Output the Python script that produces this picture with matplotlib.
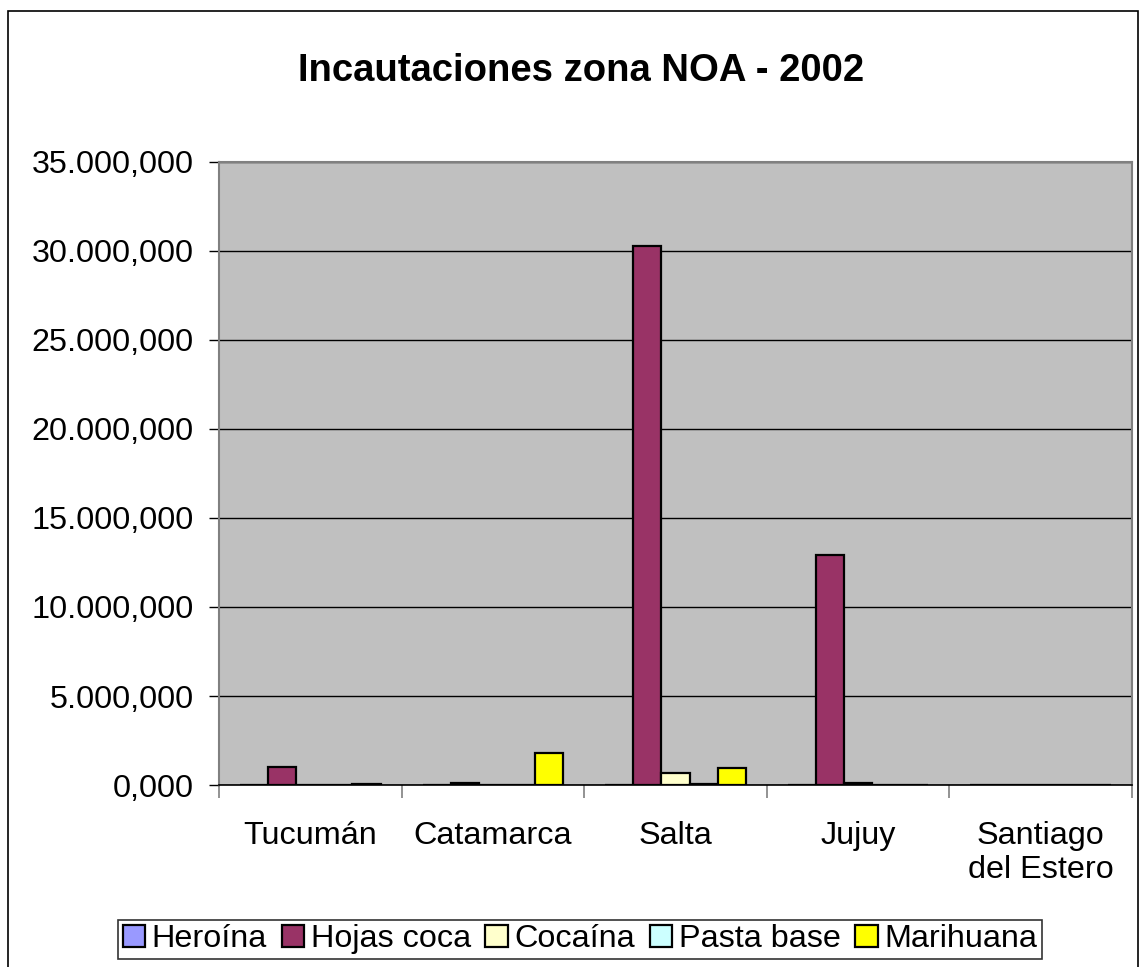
import matplotlib
matplotlib.use("Agg")
import matplotlib.pyplot as plt
import numpy as np
from matplotlib.patches import Rectangle
from matplotlib.ticker import FuncFormatter, MultipleLocator

plt.rcParams['font.family'] = ['Liberation Sans', 'DejaVu Sans']

categories = ["Tucumán", "Catamarca", "Salta", "Jujuy", "Santiago\ndel Estero"]
series_names = ["Heroína", "Hojas coca", "Cocaína", "Pasta base", "Marihuana"]
heroina = [0, 0, 0, 0, 0]
hojas_coca = [1000, 100, 30300, 12900, 0]
cocaina = [0, 0, 690, 120, 0]
pasta_base = [0, 0, 30, 0, 0]
marihuana = [30, 1810, 970, 0, 0]
series_values = [heroina, hojas_coca, cocaina, pasta_base, marihuana]
colors = ["#9999FF", "#993366", "#FFFFCC", "#CCFFFF", "#FFFF00"]

FS = 23.3

fig = plt.figure(figsize=(11.4, 9.67), dpi=100)
ax = fig.add_axes([0.1921, 0.1882, 0.993 - 0.1921, 0.8325 - 0.1882])
ax.set_facecolor("#C0C0C0")

n = len(categories)
x = np.arange(n)
bw = 1 / 6.5
for i, (name, vals, c) in enumerate(zip(series_names, series_values, colors)):
    offs = (i - 2) * bw
    ax.bar(x + offs, vals, width=bw, color=c, edgecolor="black", linewidth=1.6,
           label=name, zorder=3)

ax.set_xlim(-0.5, n - 0.5)
ax.set_ylim(0, 35000)
ax.yaxis.set_major_locator(MultipleLocator(5000))

def fmt(v, pos):
    s = f"{v:,.3f}"
    return s.replace(",", "X").replace(".", ",").replace("X", ".")
ax.yaxis.set_major_formatter(FuncFormatter(fmt))
ax.yaxis.grid(True, color="black", linewidth=1.0, zorder=1)
ax.set_axisbelow(True)

ax.set_xticks(x)
ax.set_xticklabels(categories, fontsize=FS, linespacing=1.15)
ax.set_xticks(np.arange(-0.5, n), minor=True)
ax.tick_params(axis="x", which="major", length=0, pad=26)
ax.tick_params(axis="x", which="minor", length=9, width=1.2, color="#808080")
ax.tick_params(axis="y", length=7.2, width=1.0, labelsize=FS, pad=11, color="black")

for s in ["top", "right"]:
    ax.spines[s].set_visible(False)
ax.spines["left"].set_color("#808080")
ax.spines["left"].set_linewidth(1.5)
ax.spines["bottom"].set_color("black")
ax.spines["bottom"].set_linewidth(1.2)
ax.plot([0, 1], [1, 1], transform=ax.transAxes, color="#808080", lw=1.5, clip_on=False)
ax.plot([1, 1], [0, 1], transform=ax.transAxes, color="#808080", lw=1.5, clip_on=False)

fig.text(581 / 1140, 0.927, "Incautaciones zona NOA - 2002", ha="center", va="center",
         fontsize=27.5, fontweight="bold")

leg = fig.legend(loc="center", bbox_to_anchor=(0.5088, 0.0285), ncol=5, fontsize=FS,
                 frameon=True, fancybox=False, edgecolor="black", handlelength=0.7,
                 handleheight=0.7, handletextpad=0.2, columnspacing=0.45,
                 borderpad=0.15, borderaxespad=0)
leg.get_frame().set_linewidth(1.2)

fig.patches.append(Rectangle((8 / 1140, -0.05), (1138 - 8) / 1140, 1 - 11 / 967 + 0.05,
                             transform=fig.transFigure, fill=False, edgecolor="black",
                             linewidth=1.2))

fig.savefig("out.png", dpi=100)
